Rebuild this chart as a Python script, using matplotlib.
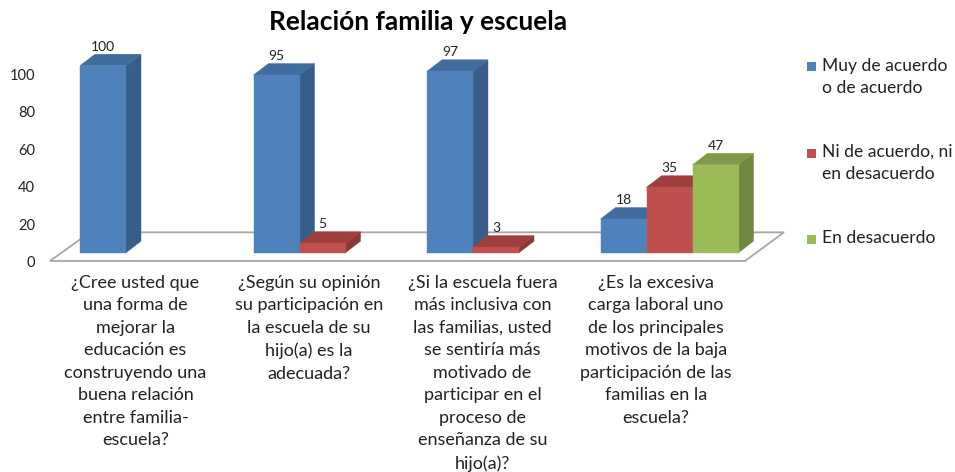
import numpy as np
import matplotlib
matplotlib.use('Agg')
import matplotlib.pyplot as plt
from matplotlib.patches import Polygon, Rectangle
from matplotlib.transforms import ScaledTranslation

plt.rcParams['font.family'] = ['Lato', 'DejaVu Sans']

# datos
titulo = 'Relación familia y escuela'
preguntas = [
    '¿Cree usted que\nuna forma de\nmejorar la\neducación es\nconstruyendo una\nbuena relación\nentre familia-\nescuela?',
    '¿Según su opinión\nsu participación en\nla escuela de su\nhijo(a) es la\nadecuada?',
    '¿Si la escuela fuera\nmás inclusiva con\nlas familias, usted\nse sentiría más\nmotivado de\nparticipar en el\nproceso de\nenseñanza de su\nhijo(a)?',
    '¿Es la excesiva\ncarga laboral uno\nde los principales\nmotivos de la baja\nparticipación de las\nfamilias en la\nescuela?',
]
series = ['Muy de acuerdo\no de acuerdo', 'Ni de acuerdo, ni\nen desacuerdo', 'En desacuerdo']
muy_de_acuerdo = [100, 95, 97, 18]
ni_de_acuerdo = [np.nan, 5, 3, 35]
en_desacuerdo = [np.nan, np.nan, np.nan, 47]
y_ticks = [0, 20, 40, 60, 80, 100]

valores = [muy_de_acuerdo, ni_de_acuerdo, en_desacuerdo]
frente = ['#4F81BD', '#C0504D', '#9BBB59']
arriba = ['#416C9E', '#9E3F3C', '#80994A']
lado = ['#385D89', '#8A3835', '#6F8840']

W, H = 955, 472
fig = plt.figure(figsize=(W / 100, H / 100), dpi=100)

# escala en pixeles
px_x = 173.5
px_y = 1.87
x_base = 149
y_base = 252.7
left_px, bottom_px = 40, 268
ax = fig.add_axes([left_px / W, (H - bottom_px) / H, (W - left_px) / W, bottom_px / H])
ax.set_xlim((left_px - x_base) / px_x, (W - x_base) / px_x)
ax.set_ylim((y_base - bottom_px) / px_y, y_base / px_y)
for s in ax.spines.values():
    s.set_visible(False)

ancho = 46 / px_x
dx = 15 / px_x
dy = 11.5 / px_y

# piso
piso = Polygon([(-0.571, -4.44), (-0.34, 10.9), (3.66, 10.9), (3.435, -4.44)],
               closed=True, facecolor='white', edgecolor='#A6A6A6', lw=1.3, zorder=1)
ax.add_patch(piso)

x = np.arange(len(preguntas))
for j, vals in enumerate(valores):
    xs = x + (j - 1) * ancho
    v = np.array(vals, dtype=float)
    ok = ~np.isnan(v)
    ax.bar(xs[ok], v[ok], width=ancho, color=frente[j], zorder=4,
           edgecolor=frente[j], linewidth=0.3)
    for xc, val in zip(xs[ok], v[ok]):
        x0, x1 = xc - ancho / 2, xc + ancho / 2
        top = Polygon([(x0, val), (x0 + dx, val + dy), (x1 + dx, val + dy), (x1, val)],
                      closed=True, facecolor=arriba[j], edgecolor=arriba[j], lw=0.3, zorder=2 + j * 0.1)
        side = Polygon([(x1, 0), (x1 + dx, dy), (x1 + dx, val + dy), (x1, val)],
                       closed=True, facecolor=lado[j], edgecolor=lado[j], lw=0.3, zorder=2 + j * 0.1)
        ax.add_patch(side)
        ax.add_patch(top)
        ax.annotate(f'{val:g}', (xc, val + dy), xytext=(0, 1), textcoords='offset points',
                    ha='center', va='bottom', fontsize=10, color='#222222', zorder=6)

ax.set_yticks(y_ticks)
ax.set_xticks(x, preguntas, fontsize=13, linespacing=1.5, color='#222222')
ax.tick_params(axis='both', length=0)
ax.tick_params(axis='y', labelsize=10.5, pad=3.6, labelcolor='#222222')
ax.tick_params(axis='x', pad=5)
for lab in ax.get_yticklabels():
    lab.set_transform(lab.get_transform() + ScaledTranslation(0, -0.088, fig.dpi_scale_trans))
for lab in ax.get_xticklabels():
    lab.set_transform(lab.get_transform() + ScaledTranslation(-0.135, 0, fig.dpi_scale_trans))

fig.text(418 / W, 1 - 22 / H, titulo, ha='center', va='center', fontsize=19, fontweight='bold')

# leyenda
ley_y = [66.7, 153, 239]
for j, nombre in enumerate(series):
    yy = ley_y[j]
    fig.patches.append(Rectangle((807 / W, 1 - (yy + 4.5) / H), 9 / W, 9 / H,
                                 transform=fig.transFigure, facecolor=frente[j], edgecolor='none'))
    fig.text(822 / W, 1 - (yy - 9) / H, nombre, ha='left', va='top', fontsize=12.6,
             linespacing=1.45, color='#222222')

fig.savefig('out.png', dpi=100, facecolor='white')
